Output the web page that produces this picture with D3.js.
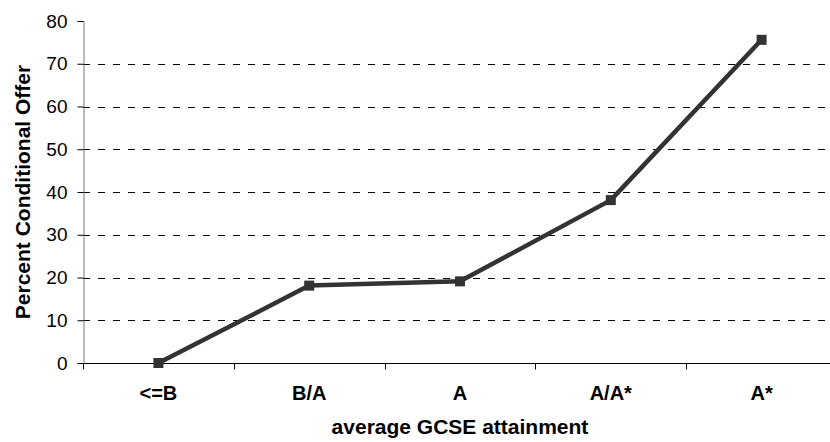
<!DOCTYPE html>
<html>
<head>
<meta charset="utf-8">
<script src="https://cdn.jsdelivr.net/npm/d3@7"></script>
<style>
  html, body { margin: 0; padding: 0; background: #fff; }
  svg { display: block; }
  text { font-family: "Liberation Sans", Arial, sans-serif; fill: #000; }
</style>
</head>
<body>
<svg id="chart" width="830" height="442"></svg>
<script>
// Share of applicants receiving a conditional offer, by average GCSE grade
const categories = ["<=B", "B/A", "A", "A/A*", "A*"];
const offerPercent = [0, 18.1, 19.1, 38.1, 75.6];
const yTicks = [0, 10, 20, 30, 40, 50, 60, 70, 80];

const svg = d3.select("#chart");
const margin = { left: 83, top: 21, bottom: 79 };
const plotW = 754;               // plot continues past the right edge of the window
const plotH = 442 - margin.top - margin.bottom;

const x = d3.scaleBand().domain(categories).range([margin.left, margin.left + plotW]);
const y = d3.scaleLinear().domain([0, 80]).range([margin.top + plotH, margin.top]);

// dashed horizontal gridlines
svg.append("g")
  .selectAll("line")
  .data(yTicks.filter(t => t > 0 && t < 80))
  .join("line")
  .attr("x1", margin.left).attr("x2", margin.left + plotW)
  .attr("y1", d => Math.round(y(d)) + 0.5).attr("y2", d => Math.round(y(d)) + 0.5)
  .attr("stroke", "#000").attr("stroke-width", 1)
  .attr("stroke-dasharray", "7,8");

// y axis
const yAxis = svg.append("g")
  .attr("transform", `translate(${margin.left + 0.5},0)`)
  .call(d3.axisLeft(y).tickValues(yTicks).tickSize(6).tickPadding(10));
yAxis.select(".domain").attr("stroke", "#777");
yAxis.selectAll(".tick line").attr("stroke", "#000");
yAxis.selectAll(".tick text")
  .attr("font-size", 19).attr("font-family", "Liberation Sans, Arial, sans-serif").attr("fill", "#000");

// x axis with ticks between categories
const xAxisG = svg.append("g")
  .attr("transform", `translate(0,${Math.round(y(0)) + 0.5})`);
xAxisG.append("line")
  .attr("x1", margin.left).attr("x2", margin.left + plotW)
  .attr("stroke", "#000");
xAxisG.selectAll(".sep")
  .data(categories)
  .join("line")
  .attr("class", "sep")
  .attr("x1", d => Math.round(x(d)) + 0.5).attr("x2", d => Math.round(x(d)) + 0.5)
  .attr("y1", 0).attr("y2", 6)
  .attr("stroke", "#000");
xAxisG.selectAll(".lbl")
  .data(categories)
  .join("text")
  .attr("class", "lbl")
  .attr("x", d => x(d) + x.bandwidth() / 2)
  .attr("y", 36)
  .attr("text-anchor", "middle")
  .attr("font-size", 20).attr("font-weight", "bold")
  .text(d => d);

// axis titles
svg.append("text")
  .attr("x", margin.left + plotW / 2)
  .attr("y", 434)
  .attr("text-anchor", "middle")
  .attr("font-size", 21).attr("font-weight", "bold")
  .text("average GCSE attainment");

svg.append("text")
  .attr("transform", `translate(30,${margin.top + plotH / 2}) rotate(-90)`)
  .attr("text-anchor", "middle")
  .attr("font-size", 21).attr("font-weight", "bold")
  .text("Percent Conditional Offer");

// series line and square markers
const pts = categories.map((c, i) => [x(c) + x.bandwidth() / 2, y(offerPercent[i])]);
svg.append("path")
  .attr("d", d3.line()(pts))
  .attr("fill", "none")
  .attr("stroke", "#333")
  .attr("stroke-width", 4.5)
  .attr("stroke-linejoin", "round");

svg.append("g")
  .selectAll("rect")
  .data(pts)
  .join("rect")
  .attr("x", d => d[0] - 5).attr("y", d => d[1] - 5)
  .attr("width", 10).attr("height", 10)
  .attr("fill", "#333");
</script>
</body>
</html>
